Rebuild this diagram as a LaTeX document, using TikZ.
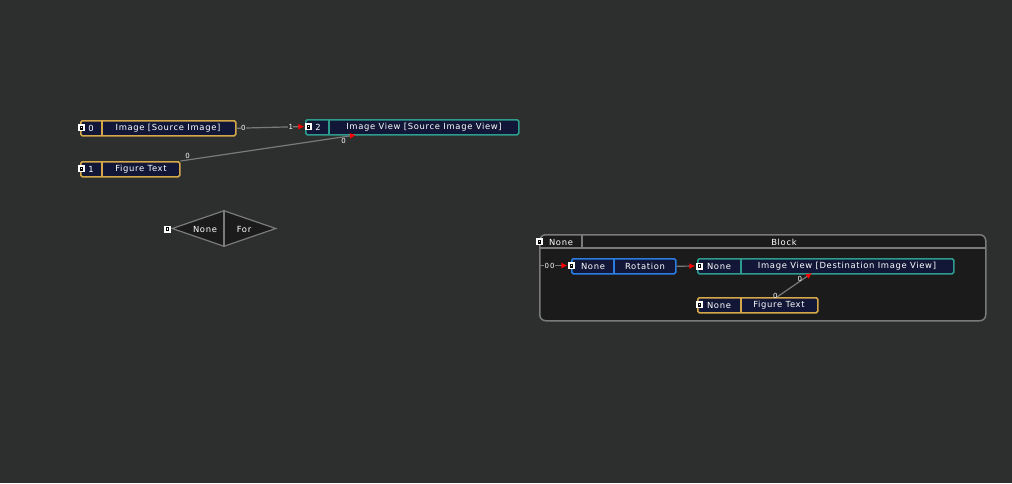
\documentclass[tikz,border=0pt]{standalone}
\usepackage{fontspec}
\setmainfont[LetterSpace=8]{DejaVu Sans}
\usetikzlibrary{shapes.geometric,arrows.meta,calc}
\definecolor{bg}{HTML}{2D2E2E}
\definecolor{navy}{HTML}{121738}
\definecolor{orng}{HTML}{D4A84A}
\definecolor{teal}{HTML}{2E9C8C}
\definecolor{blu}{HTML}{2A7CE0}
\definecolor{blk}{HTML}{1B1B1B}
\definecolor{wire}{HTML}{7A7A7A}
\tikzset{
 box/.style={draw=#1, line width=1.5pt, fill=navy, rounded corners=1.5pt, inner sep=0, anchor=north west},
 txt/.style={text=white, font=\fontsize{8.4}{9}\selectfont, inner sep=0, yshift=-0.6pt},
 lbl/.style={text=white, font=\fontsize{7}{7}\selectfont, inner sep=0.5pt},
 wire/.style={draw=wire, line width=1.2pt},
 arr/.style={wire, -{Latex[length=6pt,width=6pt,red]}},
 port/.style={fill=white, minimum size=7pt, inner sep=0, draw=none}
}
\newcommand{\portic}[2]{\node[port] (#1) at #2 {}; \fill[black] ($#2+(-1.4,-2)$) rectangle ($#2+(2,2)$); \fill[white] ($#2+(-0.2,-0.9)$) rectangle ($#2+(1.1,0.9)$);}
\begin{document}
\begin{tikzpicture}[x=1pt,y=-1pt]
\fill[bg] (0,0) rectangle (1012,483);
\useasboundingbox (0,0) rectangle (1012,483);
% top-left nodes
\node[box=orng, minimum width=155pt, minimum height=15pt] (img) at (80,120) {};
\draw[orng, line width=1.5pt] (102,120) -- (102,135);
\node[txt] at (91,128) {0};
\node[txt] at (168,128) {Image [Source Image]};
\portic{p0}{(81,127.5)}
\node[box=orng, minimum width=99pt, minimum height=15pt] (fig) at (80,161) {};
\draw[orng, line width=1.5pt] (102,161) -- (102,176);
\node[txt] at (91,169) {1};
\node[txt] at (141,169) {Figure Text};
\portic{p1}{(81,168.5)}
\node[box=teal, minimum width=213pt, minimum height=15pt] (iv) at (305,119) {};
\draw[teal, line width=1.5pt] (329,119) -- (329,134);
\node[txt] at (318,127) {2};
\node[txt] at (424,127) {Image View [Source Image View]};
\portic{p2}{(308,126.5)}
% diamond
\node[draw=wire, fill=blk, line width=1.2pt, diamond, aspect=3, minimum width=104pt, minimum height=36pt, inner sep=0] (dia) at (224,228.5) {};
\draw[wire, line width=1.2pt] (dia.north) -- (dia.south);
\node[txt] at (205,229) {None};
\node[txt] at (244,229) {For};
\portic{pd}{(167,229)}
% block
\node[draw=wire, fill=blk, line width=1.5pt, rounded corners=6pt, minimum width=446pt, minimum height=86pt, anchor=north west, inner sep=0] (blk) at (539,234) {};
\draw[wire, line width=1.2pt] (539,248) -- (985,248);
\draw[wire, line width=1.2pt] (582,234) -- (582,248);
\node[txt] at (561,242) {None};
\node[txt] at (784,242) {Block};
\portic{pb}{(539,241.5)}
\node[box=blu, minimum width=104pt, minimum height=15pt] (rot) at (571,258) {};
\draw[blu, line width=1.5pt] (614,258) -- (614,273);
\node[txt] at (593,266) {None};
\node[txt] at (645,266) {Rotation};
\portic{pr}{(571,265.5)}
\node[box=teal, minimum width=256pt, minimum height=15pt] (ivd) at (697,258) {};
\draw[teal, line width=1.5pt] (741,258) -- (741,273);
\node[txt] at (719,266) {None};
\node[txt] at (847,266) {Image View [Destination Image View]};
\portic{pv}{(699,266)}
\node[box=orng, minimum width=120pt, minimum height=15pt] (fig2) at (697,297) {};
\draw[orng, line width=1.5pt] (741,297) -- (741,312);
\node[txt] at (719,305) {None};
\node[txt] at (779,305) {Figure Text};
\portic{pf}{(699,304.5)}
% connectors
\coordinate (bin) at (540,265.5);
\draw[arr] (img.east) -- (p2.west) node[lbl, pos=0.1, fill=bg] {0} node[lbl, pos=0.8, fill=bg] {1};
\draw[arr] (fig.north east) -- (356,135) node[lbl, pos=0.04, above] {0} node[lbl, pos=0.93, below] {0};
\draw[arr] (bin) -- (pr.west) node[lbl, pos=0.35, fill=blk] {0\,0};
\draw[arr] (rot.east) -- (pv.west);
\draw[arr] (777,297) -- (812,273) node[lbl, pos=0.05, left] {0} node[lbl, pos=0.75, left] {0};
\end{tikzpicture}
\end{document}
